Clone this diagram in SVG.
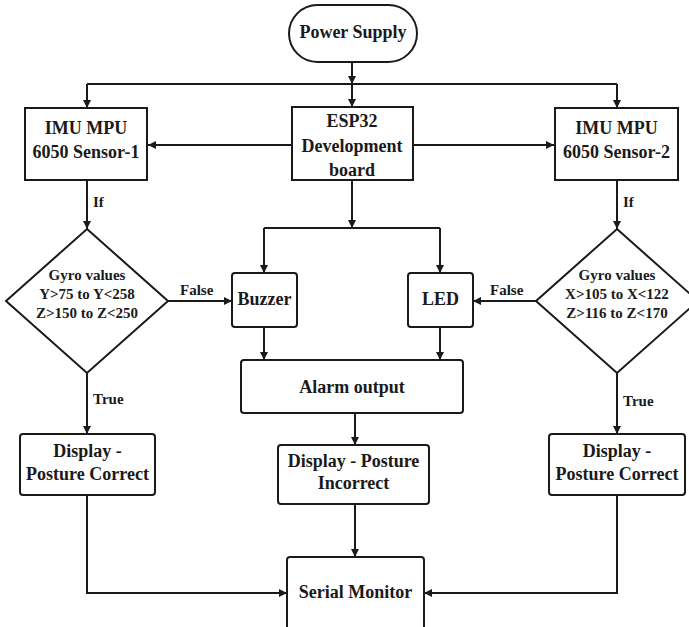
<svg xmlns="http://www.w3.org/2000/svg" width="689" height="627" viewBox="0 0 689 627">
<defs>
<marker id="ah" viewBox="0 0 10 10" refX="10" refY="5" markerWidth="8" markerHeight="8" markerUnits="userSpaceOnUse" orient="auto">
<path d="M0,0 L10,5 L0,10 z" fill="#1a1a1a"/>
</marker>
<style>
.n{fill:#fff;stroke:#1a1a1a;stroke-width:2}
.t{font-family:"Liberation Serif","Times New Roman",serif;font-weight:bold;font-size:18px;fill:#1a1a1a;text-anchor:middle}
.d{font-family:"Liberation Serif","Times New Roman",serif;font-weight:bold;font-size:15px;fill:#1a1a1a;text-anchor:middle}
.l{font-family:"Liberation Serif","Times New Roman",serif;font-weight:bold;font-size:15px;fill:#1a1a1a}
.c{fill:none;stroke:#1a1a1a;stroke-width:2;marker-end:url(#ah)}
.p{fill:none;stroke:#1a1a1a;stroke-width:2}
</style>
</defs>
<rect width="689" height="627" fill="#fff"/>
<g id="connectors">
<line class="c" x1="352" y1="62" x2="352" y2="84"/>
<line class="c" x1="352" y1="84" x2="352" y2="107"/>
<polyline class="p" points="87,84 617,84"/>
<line class="c" x1="87" y1="84" x2="87" y2="108"/>
<line class="c" x1="617" y1="84" x2="617" y2="108"/>
<line class="c" x1="292" y1="145" x2="148" y2="145"/>
<line class="c" x1="413" y1="145" x2="554" y2="145"/>
<line class="c" x1="87" y1="180" x2="87" y2="229"/>
<line class="c" x1="617" y1="180" x2="617" y2="229"/>
<line class="c" x1="352" y1="180" x2="352" y2="228"/>
<polyline class="p" points="264,228 440,228"/>
<line class="c" x1="264" y1="228" x2="264" y2="273"/>
<line class="c" x1="440" y1="228" x2="440" y2="273"/>
<line class="c" x1="168" y1="301" x2="232" y2="301"/>
<line class="c" x1="536" y1="301" x2="473" y2="301"/>
<line class="c" x1="264" y1="327" x2="264" y2="360"/>
<line class="c" x1="440" y1="327" x2="440" y2="360"/>
<line class="c" x1="355" y1="413" x2="355" y2="445"/>
<line class="c" x1="355" y1="504" x2="355" y2="557"/>
<line class="c" x1="87" y1="373" x2="87" y2="434"/>
<line class="c" x1="617" y1="373" x2="617" y2="434"/>
<polyline class="c" points="87,495 87,593 287,593"/>
<polyline class="c" points="617,495 617,593 424,593"/>
<text class="l" x="93" y="207">If</text>
<text class="l" x="623" y="207">If</text>
<text class="l" x="180" y="295">False</text>
<text class="l" x="490" y="295">False</text>
<text class="l" x="93" y="404">True</text>
<text class="l" x="623" y="406">True</text>
</g>
<g id="power">
<rect class="n" x="289" y="5" width="128" height="57" rx="28.5" ry="28.5"/>
<text class="t" x="353" y="38">Power Supply</text>
</g>
<g id="imu1">
<rect class="n" x="25" y="108" width="122" height="72"/>
<text class="t" x="86" y="134">IMU MPU</text>
<text class="t" x="86" y="158">6050 Sensor-1</text>
</g>
<g id="esp32">
<rect class="n" x="292" y="107" width="121" height="73"/>
<text class="t" x="352" y="127">ESP32</text>
<text class="t" x="352" y="152">Development</text>
<text class="t" x="352" y="176">board</text>
</g>
<g id="imu2">
<rect class="n" x="555" y="108" width="123" height="72"/>
<text class="t" x="616.5" y="134">IMU MPU</text>
<text class="t" x="616.5" y="158">6050 Sensor-2</text>
</g>
<g id="gyro1">
<polygon class="n" points="87,229 168,301 87,373 6,301"/>
<text class="d" x="87" y="280">Gyro values</text>
<text class="d" x="87" y="299">Y&gt;75 to Y&lt;258</text>
<text class="d" x="87" y="318">Z&gt;150 to Z&lt;250</text>
</g>
<g id="gyro2">
<polygon class="n" points="617,229 698,301 617,373 536,301"/>
<text class="d" x="617" y="280">Gyro values</text>
<text class="d" x="617" y="299">X&gt;105 to X&lt;122</text>
<text class="d" x="617" y="318">Z&gt;116 to Z&lt;170</text>
</g>
<g id="buzzer">
<rect class="n" x="232" y="273" width="65" height="54" rx="3"/>
<text class="t" x="264.5" y="305">Buzzer</text>
</g>
<g id="led">
<rect class="n" x="408" y="273" width="65" height="54" rx="3"/>
<text class="t" x="440.5" y="305">LED</text>
</g>
<g id="alarm">
<rect class="n" x="241" y="360" width="222" height="53" rx="3"/>
<text class="t" x="352" y="393">Alarm output</text>
</g>
<g id="correct1">
<rect class="n" x="20" y="434" width="135" height="61" rx="3"/>
<text class="t" x="87.5" y="457">Display -</text>
<text class="t" x="87.5" y="480">Posture Correct</text>
</g>
<g id="incorrect">
<rect class="n" x="278" y="445" width="151" height="59" rx="3"/>
<text class="t" x="353.5" y="467">Display - Posture</text>
<text class="t" x="353.5" y="489">Incorrect</text>
</g>
<g id="correct2">
<rect class="n" x="549" y="434" width="136" height="61" rx="3"/>
<text class="t" x="617" y="457">Display -</text>
<text class="t" x="617" y="480">Posture Correct</text>
</g>
<g id="serial">
<rect class="n" x="287" y="557" width="137" height="75" rx="3"/>
<text class="t" x="355.5" y="598">Serial Monitor</text>
</g>
</svg>
